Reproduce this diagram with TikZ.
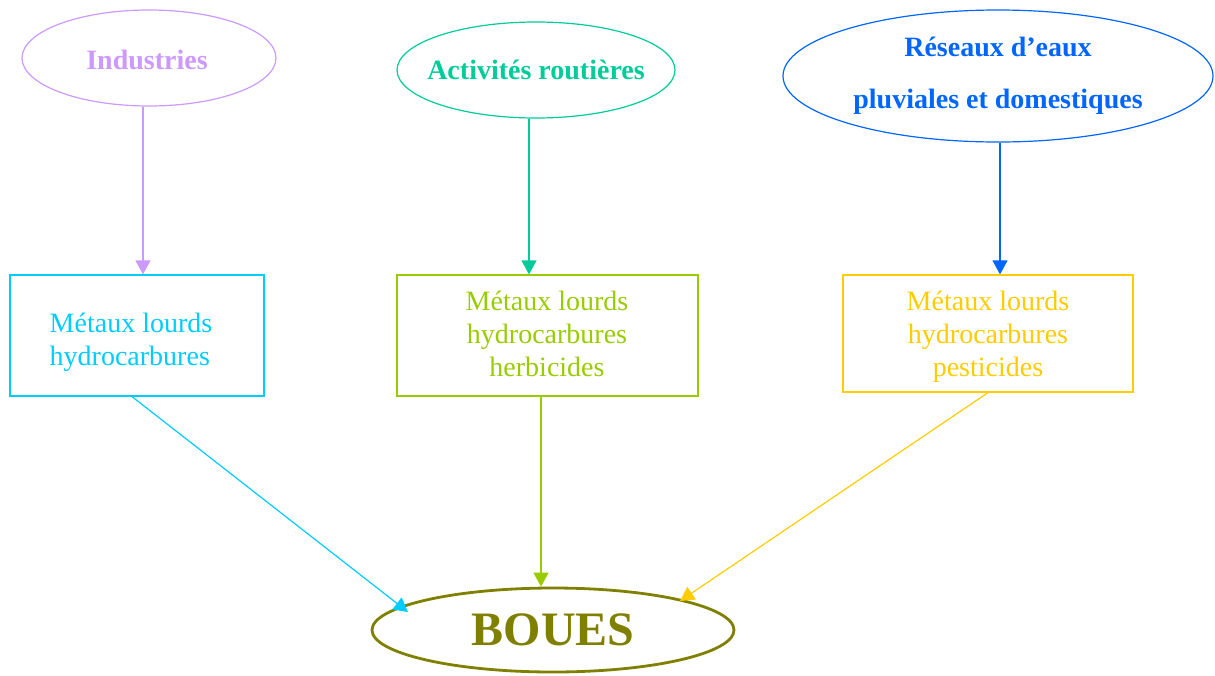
\documentclass[tikz,border=0pt]{standalone}
\usepackage{fontspec}
\setmainfont{Liberation Serif}
\usetikzlibrary{arrows.meta,shapes.geometric,calc}
\definecolor{cind}{HTML}{CC99FF}
\definecolor{cact}{HTML}{00CC99}
\definecolor{cres}{HTML}{0066FF}
\definecolor{cbone}{HTML}{00CCFF}
\definecolor{cbtwo}{HTML}{99CC00}
\definecolor{cbthree}{HTML}{FFCC00}
\definecolor{cbou}{HTML}{808000}
\begin{document}
\begin{tikzpicture}[x=1pt,y=-1pt,
  oval/.style={ellipse,draw,line width=1.2pt,inner sep=0pt,font=\fontsize{28}{33}\selectfont\bfseries,align=center},
  box/.style={rectangle,draw,line width=1.2pt,inner sep=0pt,font=\fontsize{28}{33}\selectfont,align=center},
  boxtext/.style={inner sep=0pt,font=\fontsize{28}{33}\selectfont},
  arr/.style={line width=1.2pt,-{Triangle[length=14pt,width=15pt]}}]
\useasboundingbox (0,0) rectangle (1215,675);
% helper x positions
\coordinate (xi) at (143,0);
\coordinate (xa) at (529,0);
\coordinate (xr) at (1000,0);
\coordinate (xbone) at (132,0);
\coordinate (xbtwo) at (541,0);
\coordinate (xbthree) at (988,0);
% top ellipses
\node[oval,cind,minimum width=254pt,minimum height=96pt] (ind) at (149,58) {};
\node[oval,draw=none,cind] (tind) at (147,60) {Industries};
\node[oval,cact,minimum width=278pt,minimum height=96pt,inner xsep=-40pt] (act) at (536,70) {Activités routières};
\node[oval,cres,minimum width=430pt,minimum height=132pt,font=\fontsize{28}{52}\selectfont\bfseries] (res) at (998,76) {Réseaux d’eaux\\pluviales et domestiques};
% boxes
\node[box,cbone,minimum width=254pt,minimum height=121pt] (bone) at (137,335.5) {};
\node[boxtext,cbone,align=left] (tone) at (131,342) {Métaux lourds\\hydrocarbures};
\node[box,cbtwo,minimum width=301pt,minimum height=121pt] (btwo) at (547.5,335.5) {};
\node[boxtext,cbtwo,align=center] (ttwo) at (547,334) {Métaux lourds\\hydrocarbures\\herbicides};
\node[box,cbthree,minimum width=290pt,minimum height=117pt] (bthree) at (988,333.5) {};
\node[boxtext,cbthree,align=center] (tthree) at (988,337) {Métaux lourds\\hydrocarbures\\pesticides};
% bottom ellipse
\node[ellipse,draw,cbou,line width=2.8pt,minimum width=362pt,minimum height=84pt,inner sep=0pt,font=\fontsize{48}{56}\selectfont\bfseries] (bou) at (553,630) {BOUES};
% arrows
\draw[arr,cind] (ind.south -| xi) -- (bone.north -| xi);
\draw[arr,cact] (act.south -| xa) -- (btwo.north -| xa);
\draw[arr,cres] (res.south -| xr) -- (bthree.north -| xr);
\draw[arr,cbone] (bone.south -| xbone) -- ($(bou.center)+(-145,-18)$);
\draw[arr,cbtwo] (btwo.south -| xbtwo) -- (bou.north -| xbtwo);
\draw[arr,cbthree] (bthree.south -| xbthree) -- ($(bou.center)+(127,-29)$);
\end{tikzpicture}
\end{document}
